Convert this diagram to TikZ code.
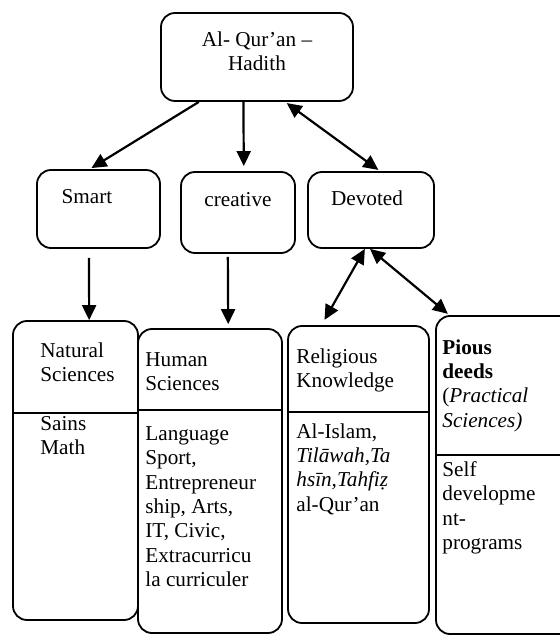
\documentclass[tikz,border=0pt]{standalone}
\usepackage{fontspec}
\setmainfont{Liberation Serif}
\usetikzlibrary{arrows.meta,calc}

\begin{document}
\begin{tikzpicture}[%
	x=0.5pt,y=-0.5pt,
	font={\fontsize{10.6pt}{12.2pt}\selectfont},
	cell/.style={draw,line width=0.9pt,rounded corners=7pt,inner sep=0pt},
	txt/.style={inner sep=0pt,align=left,anchor=north west},
	lbl/.style={inner sep=0pt,anchor=base},
	rule/.style={line width=0.9pt},
	arr/.style={line width=1.1pt,-{Triangle[length=7.5pt,width=7pt]}},
	biarr/.style={line width=1.1pt,{Triangle[length=7.5pt,width=7pt]}-{Triangle[length=7.5pt,width=7pt]}}]
	\useasboundingbox (0,0) rectangle (559,635);
	\node (qh) [cell,minimum width=96pt,minimum height=44pt] at (257,57) {};
	\node (smart) [cell,minimum width=61.5pt,minimum height=39pt] at (98.5,209) {};
	\node (creative) [cell,minimum width=57pt,minimum height=40.5pt] at (238,212.5) {};
	\node (devoted) [cell,minimum width=63pt,minimum height=38pt] at (371,210) {};
	\node (nat) [cell,minimum width=62.5pt,minimum height=149.5pt] at (75.5,470.5) {};
	\node (hum) [cell,minimum width=72pt,minimum height=152pt] at (210,481) {};
	\node (rel) [cell,minimum width=70.5pt,minimum height=148.5pt] at (358.5,474.5) {};
	\node (pious) [cell,minimum width=70.5pt,minimum height=159pt] at (506.5,475) {};
	\draw[rule] (nat.west |- 0,413) -- (nat.east |- 0,413);
	\draw[rule] (hum.west |- 0,410) -- (hum.east |- 0,410);
	\draw[rule] (rel.west |- 0,412) -- (rel.east |- 0,412);
	\draw[rule] (pious.west |- 0,455) -- (pious.east |- 0,455);
	\node (qhT) [inner sep=0pt,align=center,anchor=north] at (257,31) {Al- Qur’an –\\Hadith};
	\node (smartT) [lbl] at (87,204) {Smart};
	\node (creativeT) [lbl] at (238,207) {creative};
	\node (devotedT) [lbl] at (367,206) {Devoted};
	\node (natT) [txt] at (40,342) {Natural\\Sciences};
	\node (natB) [txt] at (40,416) {Sains\\Math};
	\node (humT) [txt] at (145,352) {Human\\Sciences};
	\node (humB) [txt] at (145,426) {Language\\Sport,\\Entrepreneur\\ship, Arts,\\IT, Civic,\\Extracurricu\\la curriculer};
	\node (relT) [txt] at (296,348) {Religious\\Knowledge};
	\node (relB) [txt] at (296,423) {Al-Islam,\\\textit{Tilāwah,Ta}\\\textit{hsīn,Tahfiẓ}\\al-Qur’an};
	\node (piT) [txt] at (442,339) {\textbf{Pious}\\\textbf{deeds}\\(\textit{Practical}\\\textit{Sciences)}};
	\node (piB) [txt] at (442,461) {Self\\developme\\nt-\\programs};
	\draw[arr,shorten >=1pt] ($(qh.south west)!0.2!(qh.south east)$) -- ($(smart.north west)!0.43!(smart.north east)$);
	\draw[arr,shorten >=2.5pt] ($(qh.south west)!0.43!(qh.south east)$) -- ($(creative.north west)!0.55!(creative.north east)$);
	\draw[biarr,shorten <=1pt,shorten >=1pt] ($(qh.south west)!0.645!(qh.south east)$) -- ($(devoted.north west)!0.57!(devoted.north east)$);
	\draw[arr,shorten <=4.5pt] ($(smart.south west)!0.423!(smart.south east)$) -- ($(nat.north west)!0.608!(nat.north east)$);
	\draw[arr,shorten <=1.5pt,shorten >=2pt] ($(creative.south west)!0.412!(creative.south east)$) -- ($(hum.north west)!0.625!(hum.north east)$);
	\draw[biarr,shorten >=3pt] ($(devoted.south west)!0.452!(devoted.south east)$) -- ($(rel.north west)!0.241!(rel.north east)$);
	\draw[biarr,shorten >=1pt] ($(devoted.south west)!0.492!(devoted.south east)$) -- ($(pious.north west)!0.1!(pious.north east)$);
\end{tikzpicture}
\end{document}
